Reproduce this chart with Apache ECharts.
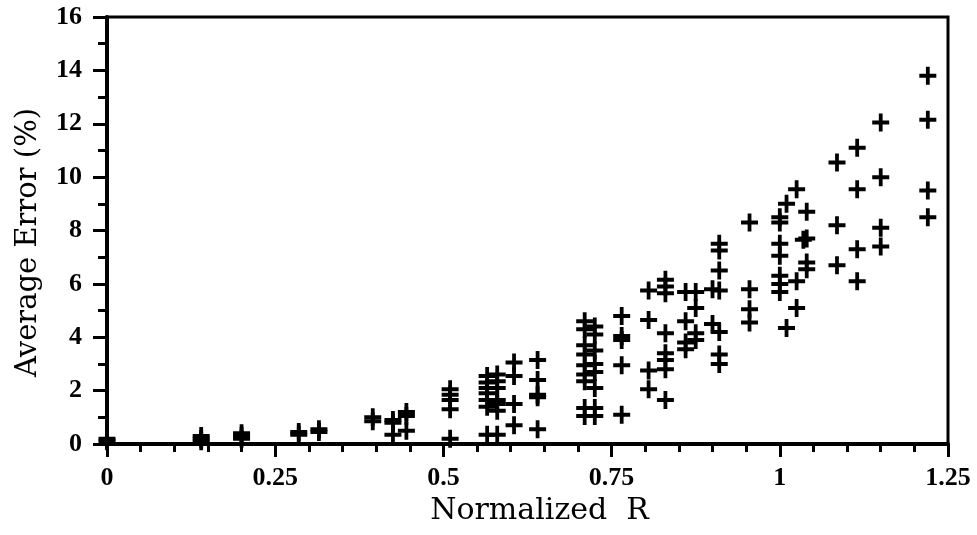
<!doctype html>
<html>
<head>
    <meta charset="utf-8">
    <script src="https://cdn.jsdelivr.net/npm/echarts/dist/echarts.min.js"></script>
    <style>
        body { margin: 0; background: #fff; }
        #main { width: 977px; height: 535px; }
    </style>
</head>
<body>
<div id="main"></div>
<script type="text/javascript">
    // normalized R of each column of measurements
    var rValues = [0, 0.14, 0.2, 0.285, 0.315, 0.395, 0.425, 0.445, 0.51, 0.565, 0.58, 0.605, 0.64,
        0.71, 0.725, 0.765, 0.805, 0.83, 0.86, 0.875, 0.9, 0.91, 0.955, 1.0, 1.01, 1.025, 1.035,
        1.04, 1.085, 1.115, 1.15, 1.22];

    var errValues = [
        [0.2, 0.1],
        [0.3, 0.2, 0.1],
        [0.4, 0.3, 0.2],
        [0.45, 0.35],
        [0.55, 0.45],
        [1.0, 0.85],
        [0.9, 0.8, 0.35],
        [1.2, 1.05, 0.5],
        [2.05, 1.85, 1.65, 1.3, 0.2],
        [2.55, 2.3, 2.1, 1.9, 1.65, 1.4, 0.35],
        [2.6, 2.35, 2.1, 1.65, 1.5, 1.25, 0.35],
        [3.05, 2.55, 1.5, 0.7],
        [3.15, 2.4, 1.85, 1.75, 0.55],
        [4.6, 4.3, 3.7, 3.35, 2.95, 2.6, 2.35, 1.35, 1.05],
        [4.4, 4.1, 3.5, 3.0, 2.7, 2.1, 1.35, 1.05],
        [4.8, 4.05, 3.9, 2.95, 1.1],
        [5.75, 4.65, 2.75, 2.05],
        [6.15, 5.9, 5.65, 4.15, 3.4, 3.15, 2.8, 1.65],
        [5.7, 4.6, 3.8, 3.55],
        [5.7, 5.1, 4.15, 3.9],
        [5.8, 4.5],
        [7.5, 7.25, 6.5, 5.75, 4.2, 3.35, 3.0],
        [8.3, 5.8, 5.05, 4.55],
        [8.5, 8.3, 7.5, 7.05, 6.3, 6.0, 5.7],
        [9.0, 4.35],
        [9.55, 6.1, 5.1],
        [7.65],
        [8.7, 7.7, 6.8, 6.55],
        [10.55, 8.2, 6.7],
        [11.1, 9.55, 7.3, 6.1],
        [12.05, 10.0, 8.1, 7.4],
        [13.8, 12.15, 9.5, 8.5]
    ];

    var xTickLabels = ['0', '0.25', '0.5', '0.75', '1', '1.25'];
    var yTickLabels = ['0', '2', '4', '6', '8', '10', '12', '14', '16'];

    var points = [];
    for (var i = 0; i < rValues.length; i++) {
        for (var j = 0; j < errValues[i].length; j++) {
            points.push([rValues[i], errValues[i][j]]);
        }
    }

    var plusPath = 'path://M7,0H11V7H18V11H11V18H7V11H0V7H7Z';
    var tickFont = 'Liberation Serif';

    var myChart = echarts.init(document.getElementById('main'));

    var option = {
        animation: false,
        grid: {
            left: 107,
            right: 29,
            top: 17,
            bottom: 91,
            show: true,
            borderColor: '#000',
            borderWidth: 3
        },
        xAxis: {
            type: 'value',
            min: 0,
            max: 1.25,
            interval: 0.25,
            name: 'Normalized  R',
            nameLocation: 'middle',
            nameGap: 46,
            nameTextStyle: {
                fontFamily: 'DejaVu Serif',
                fontSize: 30,
                color: '#000',
                padding: [0, 0, 0, 24]
            },
            axisLine: { lineStyle: { color: '#000', width: 4 } },
            axisTick: { length: 13, lineStyle: { color: '#000', width: 3 } },
            minorTick: { show: true, splitNumber: 5, length: 8, lineStyle: { color: '#000', width: 3 } },
            splitLine: { show: false },
            axisLabel: {
                margin: 21,
                fontFamily: tickFont,
                fontWeight: 'bold',
                fontSize: 26,
                color: '#000',
                formatter: function (v) {
                    return xTickLabels[Math.round(v / 0.25)];
                }
            }
        },
        yAxis: {
            type: 'value',
            min: 0,
            max: 16,
            interval: 2,
            name: 'Average Error (%)',
            nameLocation: 'middle',
            nameGap: 64,
            nameTextStyle: {
                fontFamily: 'DejaVu Serif',
                fontSize: 29,
                color: '#000',
                padding: [0, 24, 0, 0]
            },
            axisLine: { lineStyle: { color: '#000', width: 4 } },
            axisTick: { length: 14, lineStyle: { color: '#000', width: 3 } },
            minorTick: { show: true, splitNumber: 2, length: 9, lineStyle: { color: '#000', width: 3 } },
            splitLine: { show: false },
            axisLabel: {
                margin: 25,
                fontFamily: tickFont,
                fontWeight: 'bold',
                fontSize: 26,
                color: '#000',
                formatter: function (v) {
                    return yTickLabels[Math.round(v / 2)];
                }
            }
        },
        series: [{
            type: 'scatter',
            symbol: plusPath,
            symbolSize: [17, 18],
            clip: false,
            itemStyle: { color: '#000', opacity: 1 },
            data: points
        }]
    };

    myChart.setOption(option);
</script>
</body>
</html>
